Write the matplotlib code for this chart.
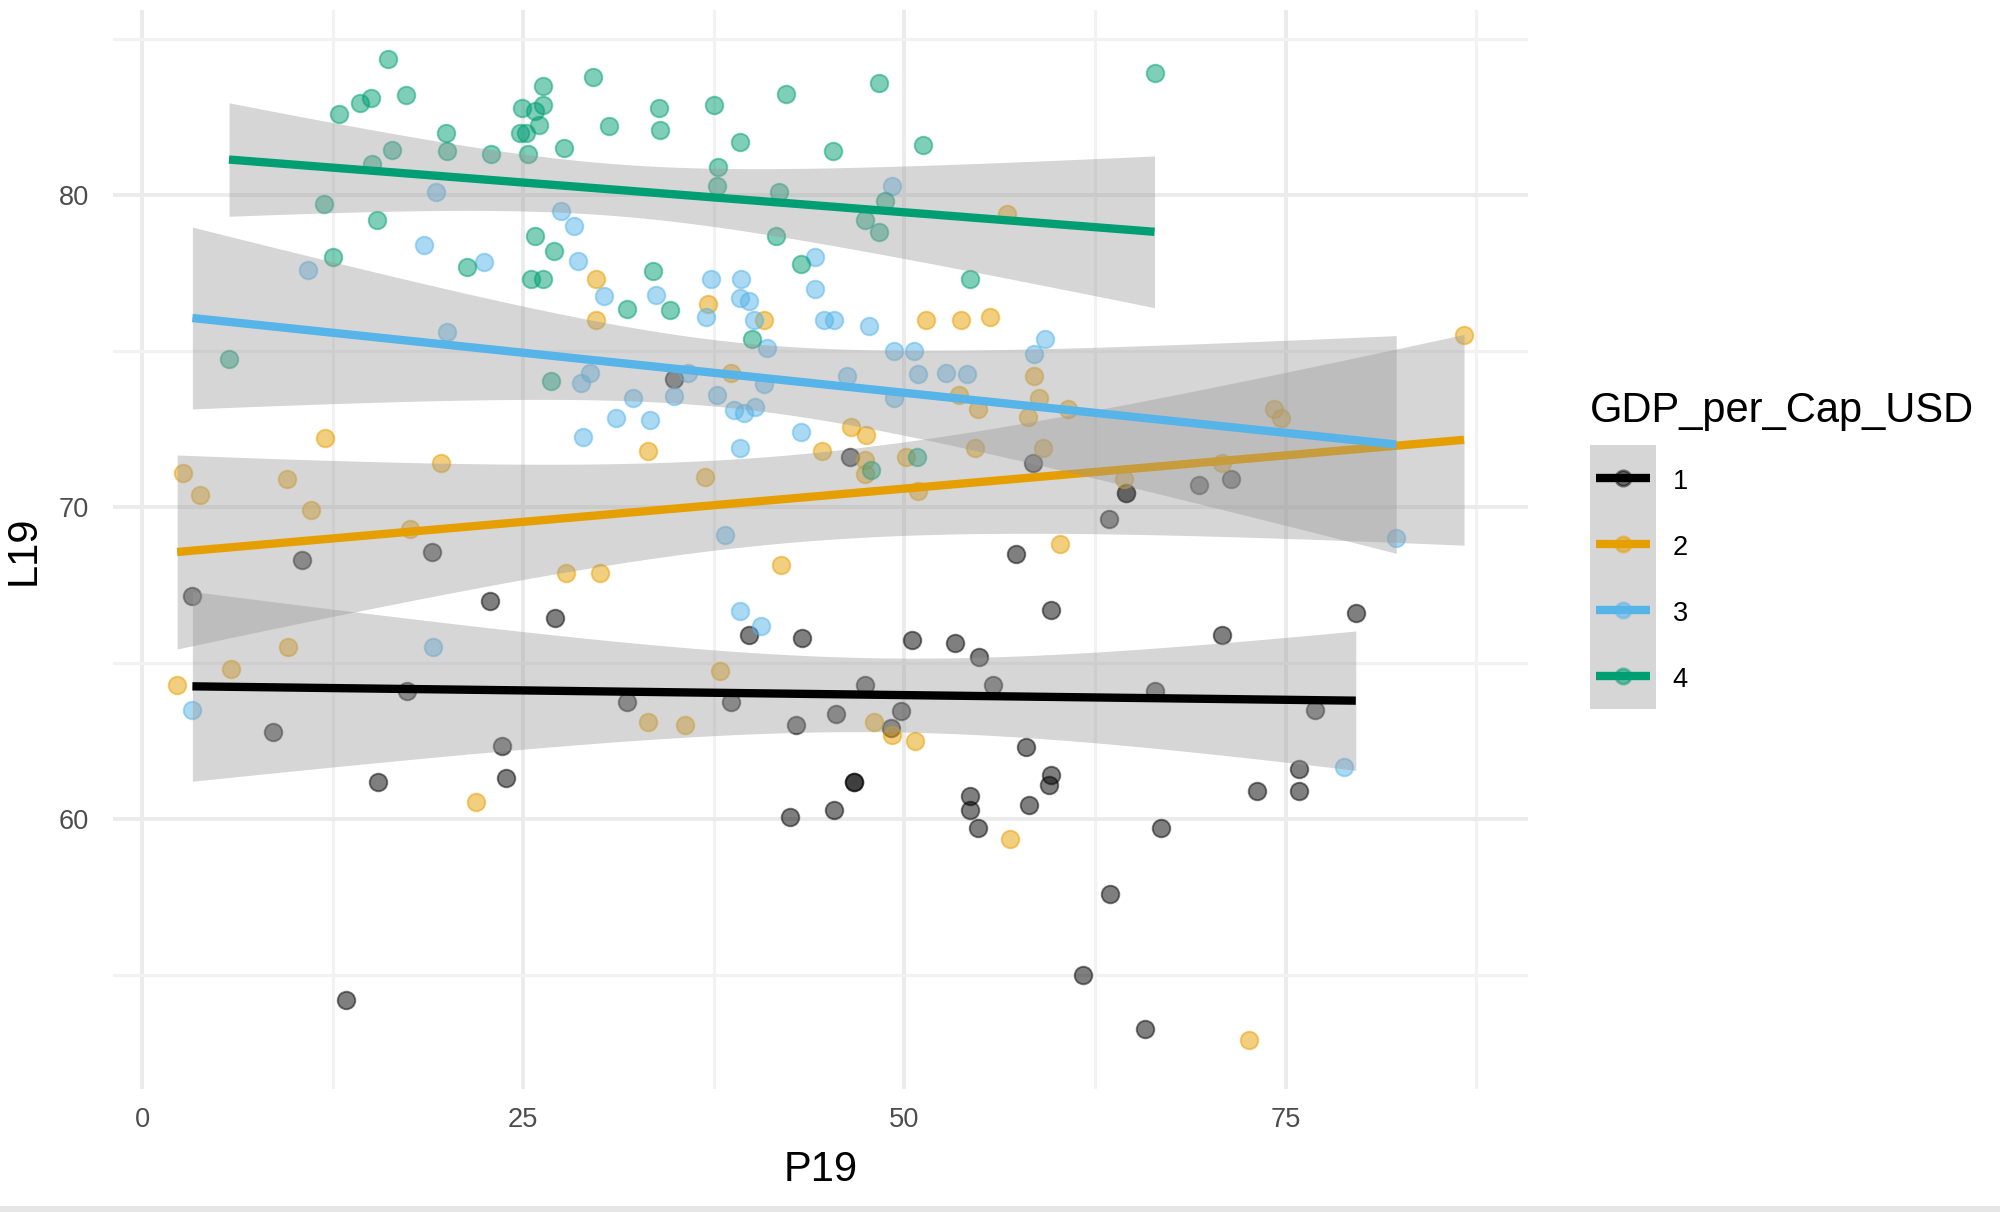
#%%
import numpy as np
import matplotlib
matplotlib.use('Agg')
import matplotlib.pyplot as plt
from matplotlib.patches import Rectangle

plt.rcParams['font.family'] = ['Liberation Sans', 'DejaVu Sans']

#%% data
groups = ['1', '2', '3', '4']
colors = ['#000000', '#E69F00', '#56B4E9', '#009E73']

p19_g1 = [34.9, 46.4, 58.4, 57.3, 59.6, 39.8, 43.3, 50.5, 53.3, 54.9, 47.4, 55.8, 31.8, 38.6,
          45.5, 49.8, 42.9, 49.1, 58.0, 46.7, 46.7, 59.6, 59.5, 54.3, 54.3, 45.4, 42.5, 54.85,
          58.2, 75.9, 73.1, 75.9, 66.8, 63.5, 61.7, 65.8, 8.6, 23.6, 15.5, 23.9, 13.35, 10.5,
          19.0, 3.3, 22.8, 27.1, 17.35, 64.5, 64.5, 69.3, 71.4, 63.4, 70.8, 79.6, 66.45, 76.9]
l19_g1 = [74.1, 71.6, 71.4, 68.5, 66.7, 65.9, 65.8, 65.75, 65.65, 65.2, 64.3, 64.3, 63.75, 63.75,
          63.35, 63.45, 63.0, 62.9, 62.3, 61.2, 61.2, 61.4, 61.1, 60.75, 60.3, 60.3, 60.05, 59.7,
          60.45, 61.6, 60.9, 60.9, 59.7, 57.6, 55.0, 53.25, 62.8, 62.35, 61.2, 61.3, 54.2, 68.3,
          68.55, 67.15, 67.0, 66.45, 64.1, 70.45, 70.45, 70.7, 70.9, 69.6, 65.9, 66.6, 64.1, 63.5]

p19_g2 = [56.7, 29.8, 37.1, 29.8, 40.8, 51.4, 53.7, 55.6, 38.6, 58.5, 58.8, 53.6, 54.8, 58.1,
          33.2, 36.95, 46.5, 47.5, 44.6, 47.4, 47.4, 50.1, 50.9, 54.6, 59.1, 41.9, 30.0, 27.8,
          60.2, 37.9, 33.2, 35.6, 48.0, 49.2, 50.7, 56.9, 72.6, 21.9, 12.0, 2.7, 3.8, 9.5, 19.6,
          11.1, 17.6, 9.6, 5.8, 2.3, 60.7, 74.25, 74.7, 64.4, 70.8, 86.7]
l19_g2 = [79.4, 77.3, 76.5, 76.0, 76.0, 76.0, 76.0, 76.1, 74.3, 74.2, 73.5, 73.6, 73.15, 72.9,
          71.8, 70.95, 72.55, 72.3, 71.8, 71.5, 71.05, 71.6, 70.5, 71.9, 71.9, 68.15, 67.9, 67.9,
          68.8, 64.75, 63.1, 63.0, 63.1, 62.7, 62.5, 59.35, 52.9, 60.55, 72.2, 71.1, 70.4, 70.9, 71.4,
          69.9, 69.3, 65.5, 64.8, 64.3, 73.15, 73.15, 72.85, 70.9, 71.4, 75.5]

p19_g3 = [19.3, 27.5, 28.3, 18.5, 28.6, 10.9, 22.4, 20.0, 28.8, 29.4, 28.9, 49.2, 44.1, 44.1,
          30.3, 33.7, 37.3, 39.3, 39.2, 39.8, 37.0, 40.1, 44.7, 45.4, 47.7, 41.0, 49.3, 50.6,
          59.2, 58.5, 35.8, 32.2, 34.9, 37.7, 40.8, 46.2, 50.9, 52.7, 54.1, 49.3, 31.1, 33.3,
          38.8, 39.5, 40.2, 43.2, 39.2, 38.2, 39.2, 40.6, 19.1, 3.3, 78.8, 82.25]
l19_g3 = [80.1, 79.5, 79.0, 78.4, 77.9, 77.6, 77.85, 75.6, 73.96, 74.3, 72.24, 80.3, 78.0, 77.0,
          76.75, 76.8, 77.3, 77.3, 76.7, 76.6, 76.1, 76.0, 76.0, 76.0, 75.8, 75.1, 75.0, 75.0,
          75.4, 74.9, 74.3, 73.5, 73.55, 73.6, 73.95, 74.2, 74.25, 74.3, 74.25, 73.5, 72.85, 72.8,
          73.1, 73.0, 73.2, 72.4, 71.9, 69.1, 66.65, 66.2, 65.5, 63.5, 61.65, 69.0]

p19_g4 = [16.1, 12.9, 14.3, 15.0, 17.3, 19.9, 16.4, 15.05, 20.0, 22.9, 26.3, 24.9, 26.3, 25.8,
          26.0, 24.8, 25.2, 25.3, 27.7, 29.6, 11.9, 15.4, 25.75, 27.0, 12.5, 21.3, 25.5, 26.3,
          5.7, 26.85, 30.6, 33.9, 34.0, 37.5, 42.2, 48.3, 39.2, 45.3, 51.2, 37.8, 37.7, 41.8,
          48.7, 47.4, 48.3, 41.6, 43.2, 54.3, 33.5, 31.8, 34.6, 40.0, 47.8, 50.8, 66.4]
l19_g4 = [84.35, 82.6, 82.96, 83.1, 83.2, 82.0, 81.45, 81.0, 81.4, 81.3, 83.5, 82.8, 82.9, 82.7,
          82.25, 82.0, 82.0, 81.3, 81.5, 83.8, 79.7, 79.2, 78.7, 78.2, 78.0, 77.7, 77.3, 77.3,
          74.75, 74.05, 82.2, 82.8, 82.1, 82.9, 83.25, 83.6, 81.7, 81.4, 81.6, 80.9, 80.3, 80.1,
          79.8, 79.2, 78.8, 78.7, 77.8, 77.3, 77.55, 76.35, 76.3, 75.4, 71.2, 71.6, 83.9]

xs = [p19_g1, p19_g2, p19_g3, p19_g4]
ys = [l19_g1, l19_g2, l19_g3, l19_g4]


#%% lm fit with 95% band, like geom_smooth(method='lm')
def t975(df):
    z = 1.959964
    return z + (z**3 + z) / (4 * df) + (5 * z**5 + 16 * z**3 + 3 * z) / (96 * df**2)


def lm_band(x, y, n=100):
    x = np.asarray(x, float)
    y = np.asarray(y, float)
    b, a = np.polyfit(x, y, 1)
    res = y - (a + b * x)
    s = np.sqrt(np.sum(res**2) / (len(x) - 2))
    sxx = np.sum((x - x.mean())**2)
    xg = np.linspace(x.min(), x.max(), n)
    yg = a + b * xg
    se = s * np.sqrt(1 / len(x) + (xg - x.mean())**2 / sxx)
    w = t975(len(x) - 2) * se
    return xg, yg, yg - w, yg + w


#%%
fig = plt.figure(figsize=(10, 6.06), dpi=200)
ax = fig.add_axes([0.0564, 0.1011, 0.7078, 0.8904])

for x, y, c in zip(xs, ys, colors):
    ax.scatter(x, y, s=40, color=c, alpha=0.5, edgecolor=c, linewidth=0.7, zorder=2)

for x, y, c in zip(xs, ys, colors):
    xg, yg, lo, hi = lm_band(x, y)
    ax.fill_between(xg, lo, hi, color='#999999', alpha=0.4, linewidth=0, zorder=3)
    ax.plot(xg, yg, color=c, lw=3, solid_capstyle='butt', zorder=3)

# ggplot style 5% expansion
allx = np.concatenate(xs)
ally = np.concatenate(ys)
dx = 0.05 * (allx.max() - allx.min())
dy = 0.05 * (ally.max() - ally.min())
ax.set_xlim(allx.min() - dx, allx.max() + dx)
ax.set_ylim(ally.min() - dy, ally.max() + dy)

ax.set_xticks([0, 25, 50, 75])
ax.set_xticks([12.5, 37.5, 62.5, 87.5], minor=True)
ax.set_yticks([60, 70, 80])
ax.set_yticks([55, 65, 75, 85], minor=True)
ax.grid(True, which='major', color='#ebebeb', lw=1.4, zorder=0)
ax.grid(True, which='minor', color='#f2f2f2', lw=1.1, zorder=0)
ax.set_axisbelow(True)
for sp in ax.spines.values():
    sp.set_visible(False)
ax.tick_params(which='both', length=0, labelsize=9.8, labelcolor='#4d4d4d')
ax.tick_params(axis='x', pad=6.3)
ax.tick_params(axis='y', pad=8.5)

ax.set_xlabel('P19', fontsize=15, labelpad=6)
ax.set_ylabel('L19', fontsize=15, labelpad=5.5)

#%% legend, drawn by hand to get the ggplot key look
lax = fig.add_axes([0.795, 0.415, 0.033, 0.2178])
lax.set_facecolor('#d6d6d6')
lax.set_xlim(0, 1)
lax.set_ylim(len(groups), 0)
for i, (g, c) in enumerate(zip(groups, colors)):
    lax.plot([0.09, 0.91], [i + 0.5, i + 0.5], color=c, lw=3, solid_capstyle='butt')
    lax.plot([0.5], [i + 0.5], 'o', color=c, ms=5.5, alpha=0.5)
    lax.text(1.25, i + 0.56, g, fontsize=9.8, va='center', ha='left', transform=lax.transData,
             clip_on=False)
lax.set_xticks([])
lax.set_yticks([])
for sp in lax.spines.values():
    sp.set_visible(False)
fig.text(0.795, 0.652, 'GDP_per_Cap_USD', fontsize=15, va='baseline', ha='left')

# thin grey strip at the bottom edge of the screenshot
fig.patches.append(Rectangle((0, 0), 1, 6 / 1212, transform=fig.transFigure,
                             facecolor='#e6e6e6', edgecolor='none'))

#%%
fig.savefig('out.png', dpi=200)
